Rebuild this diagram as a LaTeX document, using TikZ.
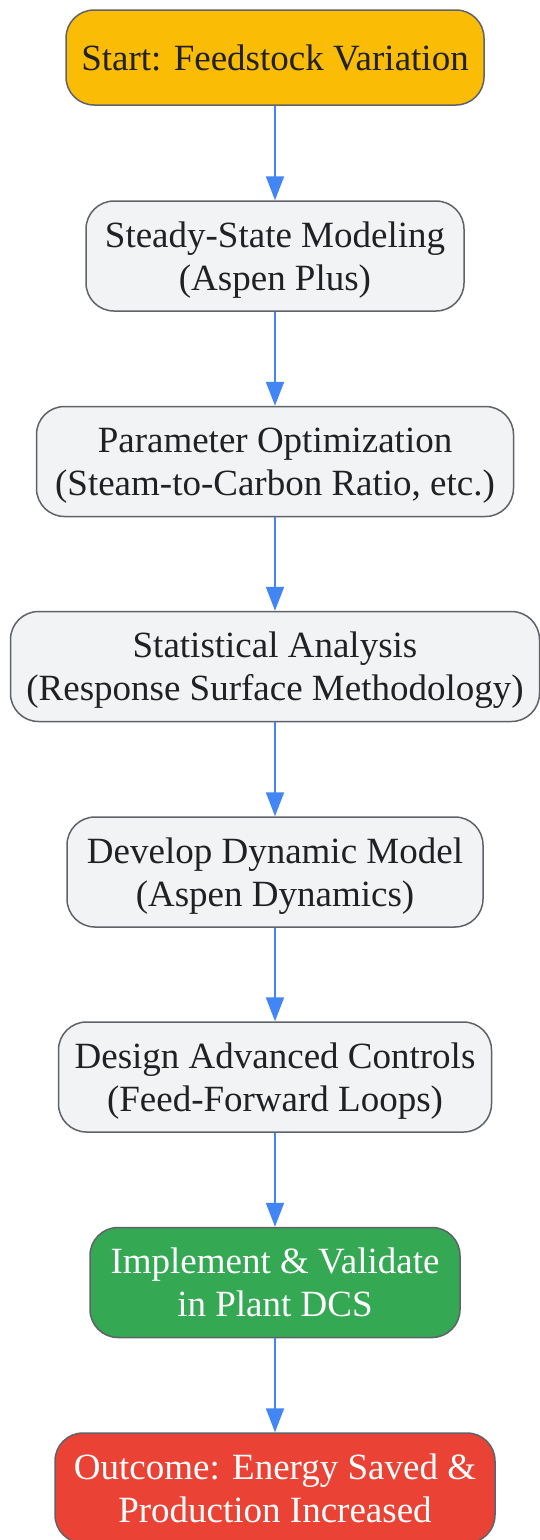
\documentclass[tikz,border=0pt]{standalone}
\usepackage{fontspec}
\setmainfont{Liberation Serif}
\usetikzlibrary{arrows.meta}

\definecolor{startyellow}{HTML}{FBBC05}
\definecolor{stepgray}{HTML}{F1F3F4}
\definecolor{implgreen}{HTML}{34A853}
\definecolor{endred}{HTML}{EA4335}
\definecolor{boxline}{HTML}{5F6368}
\definecolor{flowblue}{HTML}{4285F4}
\definecolor{textdark}{HTML}{202124}

\begin{document}
\begin{tikzpicture}[x=1pt,y=1pt,
    box/.style={draw=boxline, line width=1.5pt, rounded corners=28pt,
      fill=stepgray, text=textdark, align=center, inner sep=0pt,
      text depth=0pt, minimum height=110pt,
      font=\fontsize{37}{43}\selectfont},
    flow/.style={draw=flowblue, line width=2pt,
      -{Triangle[length=24pt,width=18pt]}}]
    \useasboundingbox (0,0) rectangle (539,-1540);
    \node[box, fill=startyellow, minimum width=418pt, minimum height=95pt] (start) at (275,-57.5) {Start: Feedstock Variation};
    \node[box, minimum width=378pt] (steady) at (275,-256) {Steady-State Modeling\\(Aspen Plus)};
    \node[box, minimum width=477pt] (param) at (275,-461.5) {Parameter Optimization\\(Steam-to-Carbon Ratio, etc.)};
    \node[box, minimum width=529pt] (stats) at (275,-666.5) {Statistical Analysis\\(Response Surface Methodology)};
    \node[box, minimum width=416pt] (dynamic) at (275,-872) {Develop Dynamic Model\\(Aspen Dynamics)};
    \node[box, minimum width=433pt] (control) at (275,-1077) {Design Advanced Controls\\(Feed-Forward Loops)};
    \node[box, fill=implgreen, text=white, minimum width=370pt] (implement) at (275,-1282.5) {Implement \& Validate\\in Plant DCS};
    \node[box, fill=endred, text=white, minimum width=440pt] (outcome) at (275,-1488) {Outcome: Energy Saved \&\\Production Increased};
    \foreach \a/\b in {start/steady, steady/param, param/stats, stats/dynamic,
        dynamic/control, control/implement, implement/outcome}
        \draw[flow] (\a) -- (\b);
\end{tikzpicture}
\end{document}
